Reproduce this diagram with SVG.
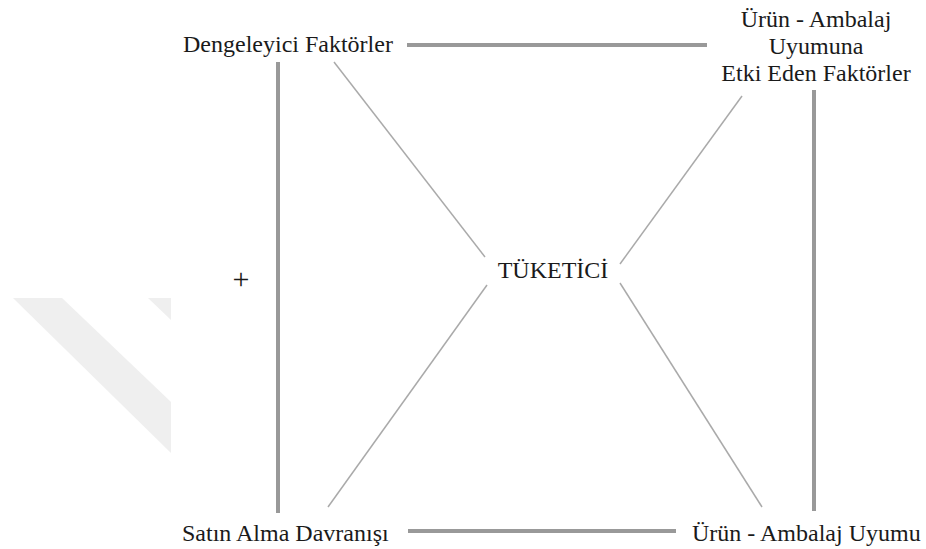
<svg xmlns="http://www.w3.org/2000/svg" width="926" height="549" viewBox="0 0 926 549">
<style>
.thick{stroke:#999;stroke-width:4;fill:none}
.thin{stroke:#aaa;stroke-width:1.5;fill:none}
</style>
<rect width="926" height="549" fill="#fff"/>
<g id="watermark" fill="#efefef">
<polygon points="13,298 62,298 171,402 171,453"/>
<polygon points="148,298 171,298 171,320"/>
</g>
<g id="connectors">
<line class="thick" x1="407" y1="45" x2="707" y2="45"/>
<line class="thick" x1="408" y1="531" x2="676" y2="531"/>
<line class="thick" x1="278" y1="62" x2="278" y2="513"/>
<line class="thick" x1="814" y1="90" x2="814" y2="511"/>
<line class="thin" x1="334" y1="62" x2="485" y2="257"/>
<line class="thin" x1="742" y1="96" x2="620" y2="264"/>
<line class="thin" x1="487" y1="285" x2="328" y2="507"/>
<line class="thin" x1="620" y1="283" x2="762" y2="507"/>
</g>
<g font-family="Liberation Serif, Times New Roman, serif" font-size="24" fill="#1a1a1a">
<g id="dengeleyici"><text x="183" y="52">Dengeleyici Faktörler</text></g>
<g id="etki"><text text-anchor="middle" x="816"><tspan x="816" y="27">Ürün - Ambalaj</tspan><tspan x="816" y="54">Uyumuna</tspan><tspan x="816" y="81">Etki Eden Faktörler</tspan></text></g>
<g id="tuketici"><text text-anchor="middle" x="553" y="278">TÜKETİCİ</text></g>
<g id="plus"><text text-anchor="middle" x="241" y="289" font-size="30">+</text></g>
<g id="satin"><text x="182" y="541">Satın Alma Davranışı</text></g>
<g id="uyum"><text x="692" y="541">Ürün - Ambalaj Uyumu</text></g>
</g>
</svg>
